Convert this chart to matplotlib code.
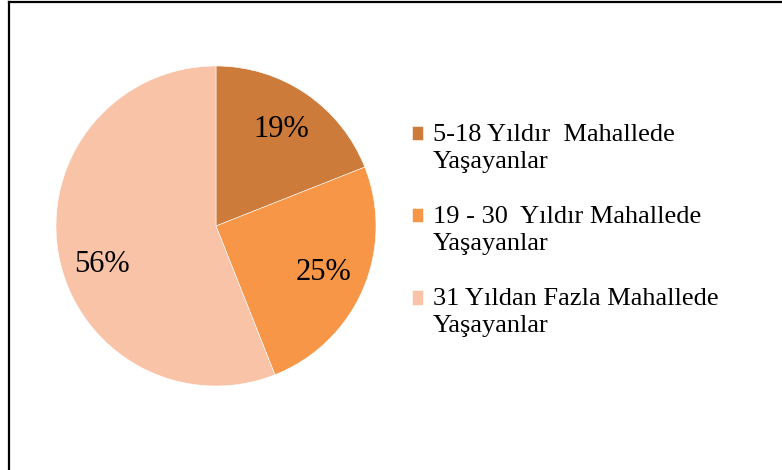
import numpy as np
import matplotlib.pyplot as plt
from matplotlib.lines import Line2D
from matplotlib.patches import Rectangle
from matplotlib.legend_handler import HandlerPatch

# Veriler
kategoriler = ['5-18 Yıldır  Mahallede\nYaşayanlar',
               '19 - 30  Yıldır Mahallede\nYaşayanlar',
               '31 Yıldan Fazla Mahallede\nYaşayanlar']
yuzdeler = [19, 25, 56]
renkler = ['#CD7B3A', '#F79646', '#F9C3A7']

plt.rcParams['font.family'] = ['Liberation Serif', 'DejaVu Serif']

fig = plt.figure(figsize=(7.82, 4.70), dpi=100)
W, H = 782, 470
ax = fig.add_axes([56 / W, (H - 386) / H, 320 / W, 320 / H])

wedges, texts, autotexts = ax.pie(yuzdeler, colors=renkler, startangle=90,
                                  counterclock=False, radius=1,
                                  autopct='%1.0f%%', pctdistance=0.73,
                                  wedgeprops={'edgecolor': 'white', 'linewidth': 0.4},
                                  textprops={'fontsize': 22, 'color': 'black'})
ax.set_xlim(-1, 1)
ax.set_ylim(-1, 1)
ax.set_aspect('equal')

# büyük dilimin etiketi biraz aşağıda duruyor
aci = np.deg2rad(198.6)
autotexts[2].set_position((0.75 * np.cos(aci), 0.75 * np.sin(aci)))


# lejant kutucuğu ilk satırın hizasında olsun
def ust_kare(legend, orig_handle, xdescent, ydescent, width, height, fontsize):
    return Rectangle((-xdescent, -ydescent + 10), width, height)


leg = fig.legend(wedges, kategoriler, loc='upper left', bbox_to_anchor=(401 / W, 1 - 113 / H),
                 frameon=False, fontsize=19, handlelength=0.45, handleheight=0.45,
                 handletextpad=0.35, labelspacing=1.25, borderaxespad=0,
                 handler_map={w: HandlerPatch(patch_func=ust_kare) for w in wedges})
for t in leg.get_texts():
    t.set_linespacing(1.3)

# çerçeve (sol ve üst)
fig.add_artist(Line2D([9 / W, 9 / W], [0, 1 - 2 / H], color='black', lw=1.6))
fig.add_artist(Line2D([9 / W, 1], [1 - 2 / H, 1 - 2 / H], color='black', lw=1.6))

fig.savefig('out.png', dpi=100)
